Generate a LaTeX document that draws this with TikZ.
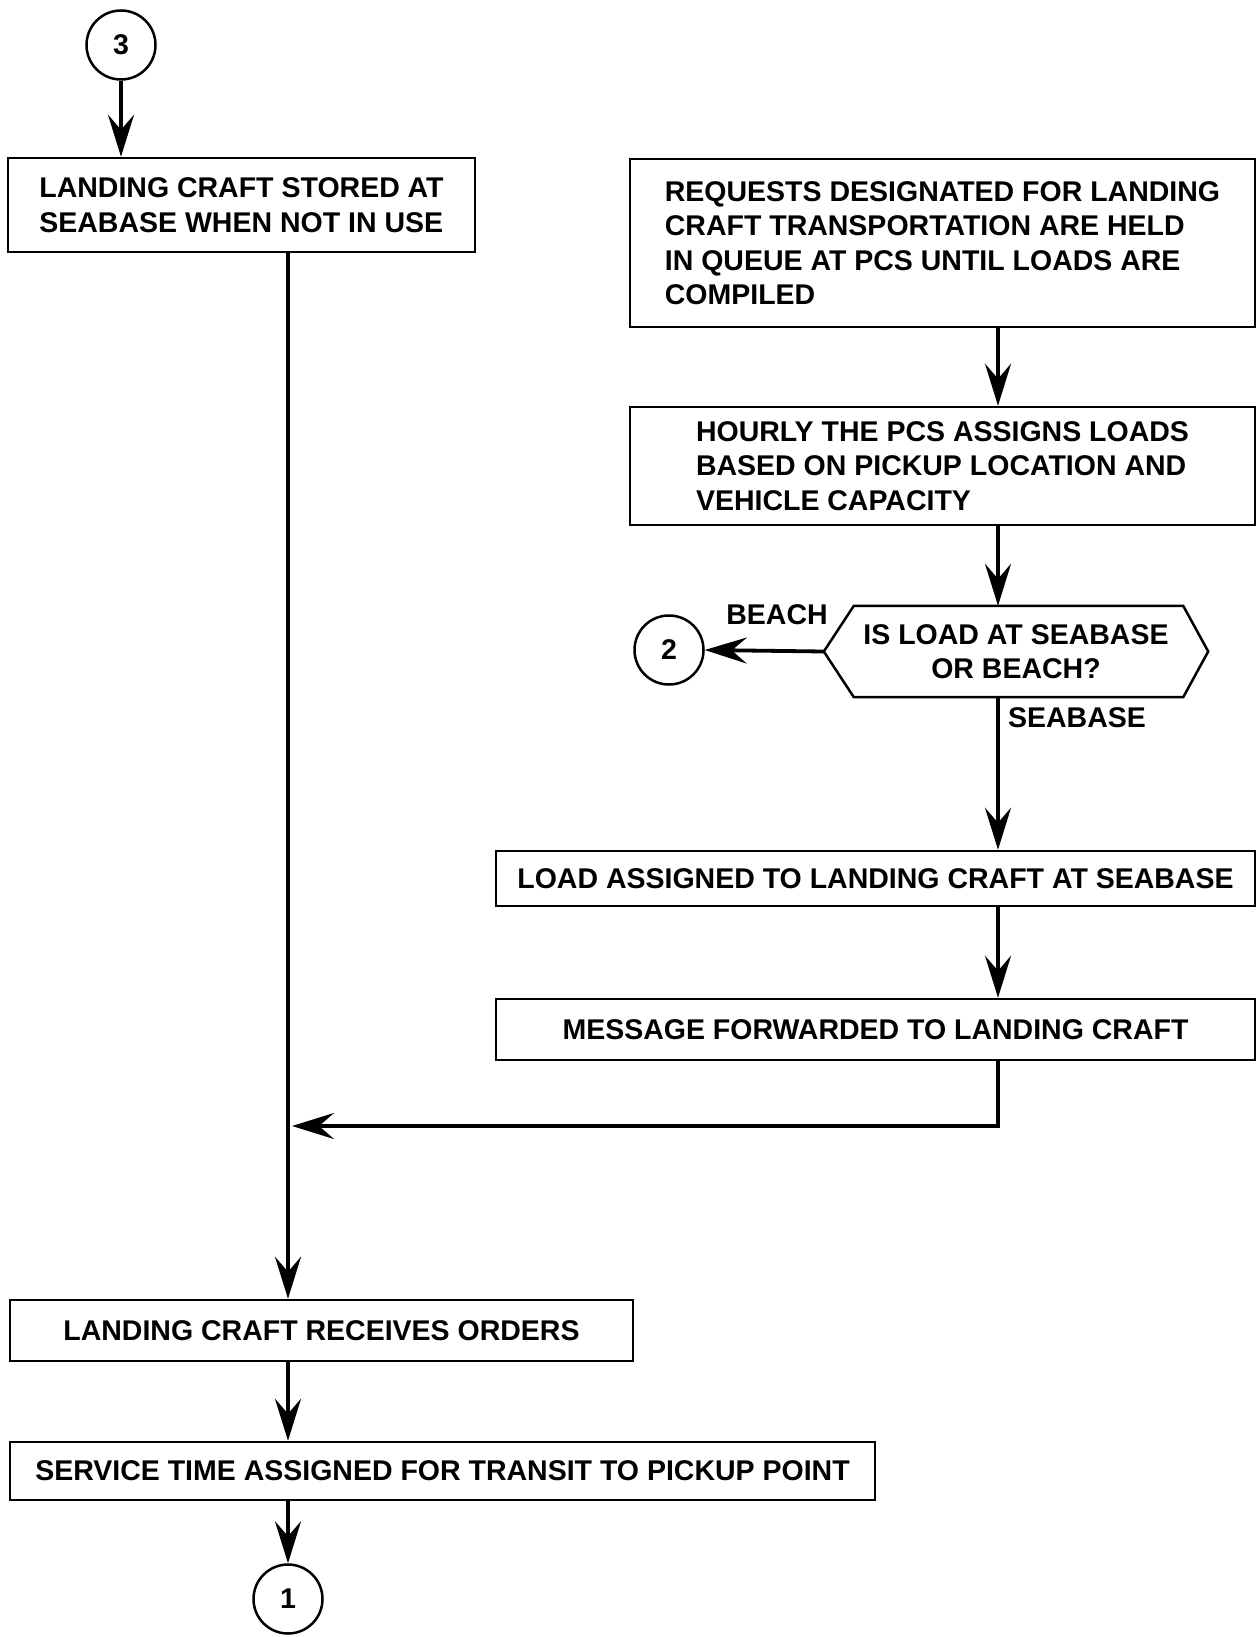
\documentclass[tikz,border=0pt]{standalone}
\usepackage{fontspec}
\setmainfont{Liberation Sans}
\usetikzlibrary{arrows.meta}
\begin{document}
\begin{tikzpicture}[x=1pt,y=-1pt,
  txt/.style={font=\bfseries\fontsize{28.5}{34.5}\selectfont},
  stepbox/.style={txt,draw,line width=2.5pt,inner sep=0pt,align=left},
  conn/.style={txt,draw,circle,line width=2.5pt,minimum size=69pt,inner sep=0pt},
  flow/.style={line width=3.8pt,-{Stealth[length=42pt,width=26pt,inset=15pt]}},
  plain/.style={line width=3.8pt}]
\useasboundingbox (0,0) rectangle (1258,1637);

% connectors (off-page references)
\node[conn] (c3) at (121,45) {3};
\node[conn] (c2) at (669,650) {2};
\node[conn] (c1) at (288,1599) {1};

% left column
\node[stepbox,minimum width=467pt,minimum height=94pt] (store) at (241.5,205)
  {LANDING CRAFT STORED AT\\SEABASE WHEN NOT IN USE};
\node[stepbox,minimum width=623pt,minimum height=61pt] (orders) at (321.5,1330.5)
  {LANDING CRAFT RECEIVES ORDERS};
\node[stepbox,minimum width=865pt,minimum height=58pt] (service) at (442.5,1471)
  {SERVICE TIME ASSIGNED FOR TRANSIT TO PICKUP POINT};

% right column
\node[stepbox,minimum width=625pt,minimum height=168pt] (queue) at (942.5,243)
  {REQUESTS DESIGNATED FOR LANDING\\CRAFT TRANSPORTATION ARE HELD\\IN QUEUE AT PCS UNTIL LOADS ARE\\COMPILED};
\node[stepbox,minimum width=625pt,minimum height=118pt] (hourly) at (942.5,466)
  {HOURLY THE PCS ASSIGNS LOADS\\BASED ON PICKUP LOCATION AND\\VEHICLE CAPACITY};
\node[txt,align=center,minimum width=384pt,minimum height=91pt,inner sep=0pt] (hex) at (1016,651.5)
  {IS LOAD AT SEABASE\\OR BEACH?};
\draw[line width=2.5pt,line join=miter]
  (hex.west) -- ([xshift=30pt]hex.north west) -- ([xshift=-25pt]hex.north east)
  -- (hex.east) -- ([xshift=-25pt]hex.south east) -- ([xshift=30pt]hex.south west) -- cycle;
\node[stepbox,minimum width=759pt,minimum height=55pt] (assign) at (875.5,878.5)
  {LOAD ASSIGNED TO LANDING CRAFT AT SEABASE};
\node[stepbox,minimum width=759pt,minimum height=61pt] (message) at (875.5,1029.5)
  {MESSAGE FORWARDED TO LANDING CRAFT};

% branch labels
\node[txt] (beach) at (777,615) {BEACH};
\node[txt] (seabase) at (1077,718) {SEABASE};

% column guides
\coordinate (rcol) at (998,0);
\coordinate (merge) at (288,1126);

% flow lines
\draw[flow] (c3.south) -- (c3.south |- store.north);
\draw[flow] (c1 |- store.south) -- (c1 |- orders.north);
\draw[flow] (c1 |- orders.south) -- (c1 |- service.north);
\draw[flow] (c1 |- service.south) -- (c1.north);

\draw[flow] (rcol |- queue.south) -- (rcol |- hourly.north);
\draw[flow] (rcol |- hourly.south) -- (rcol |- hex.north);
\draw[flow] (hex.west) -- (c2.east);
\draw[flow] (rcol |- hex.south) -- (rcol |- assign.north);
\draw[flow] (rcol |- assign.south) -- (rcol |- message.north);
\draw[flow,shorten >=4pt] (rcol |- message.south) |- (merge);
\end{tikzpicture}
\end{document}
